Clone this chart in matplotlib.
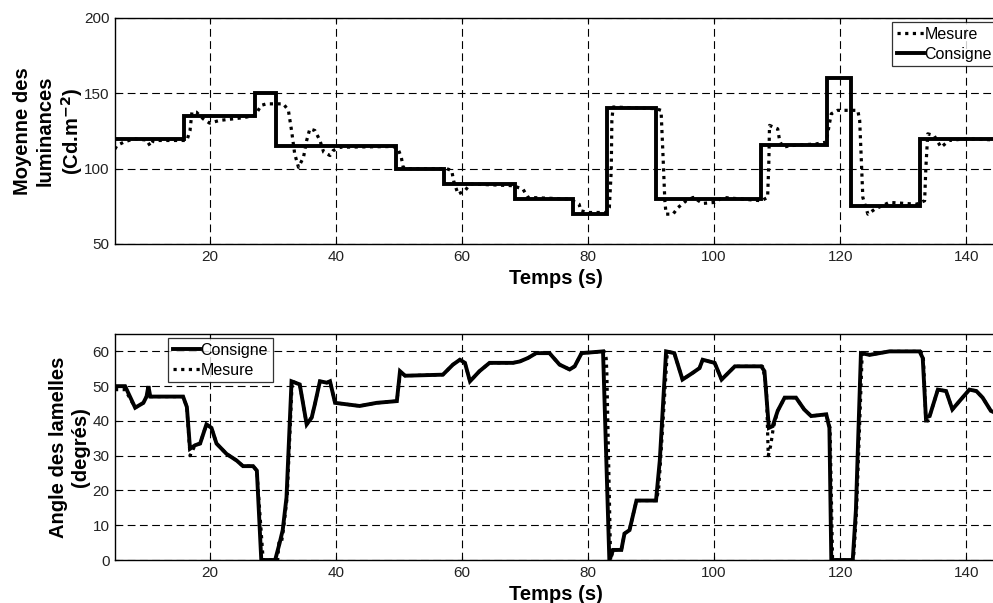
import numpy as np
import matplotlib.pyplot as plt
from matplotlib.lines import Line2D

plt.rcParams['font.family'] = ['Liberation Sans', 'DejaVu Sans']

# --- luminance (top panel) ---
lum_cons_t = [5, 15.9, 27.2, 30.6, 49.5, 57.2, 68.4, 77.6, 83.1, 90.8, 107.5, 117.9, 121.8, 132.6, 145]
lum_cons_v = [120, 135, 150, 115, 100, 90, 80, 70, 140, 80, 116, 160, 75, 120, 120]

lum_mes_t = [5, 5.3, 6.4, 8.0, 10.0, 10.6, 11.1, 16.4, 16.9, 17.2, 17.9, 19.0, 20.0, 21.6, 25.3,
             27.2, 28.2, 29.0, 31.7, 32.5, 33.0, 33.5, 34.1, 34.9, 35.4, 35.9, 36.7, 37.5, 38.1,
             39.1, 39.6, 40.7, 49.1, 49.9, 50.4, 50.7, 51.0, 57.6, 58.4, 58.7, 59.4, 60.5, 61.3,
             68.1, 69.7, 70.5, 77.1, 78.6, 78.9, 80.0, 82.9, 83.4, 83.7, 83.8, 84.0, 90.8, 91.6,
             91.9, 92.2, 92.4, 93.5, 94.3, 95.6, 96.7, 98.2, 100.1, 101.4, 107.5, 108.5, 108.7,
             108.8, 110.1, 110.4, 110.9, 112.2, 116.2, 117.8, 118.3, 118.6, 119.6, 122.8, 123.1,
             123.3, 123.6, 124.4, 125.5, 127.8, 132.1, 133.4, 133.6, 133.9, 134.9, 136.0, 137.3,
             139.9, 145]
lum_mes_v = [113, 115.3, 117.6, 119.8, 119, 115, 118.7, 118.7, 125.3, 137.5, 137.5, 133, 130.2, 132,
             133.8, 135.3, 142, 143, 143, 138.7, 125.3, 109.8, 100.9, 107.6, 118.7, 126.4, 125.3,
             118.7, 110.9, 108.7, 112, 114.2, 114.7, 113, 107.6, 101, 100, 100, 98.7, 92, 83.1,
             85.3, 89.8, 88.7, 86.4, 80.9, 79.8, 76.4, 72, 70.9, 70.9, 74.2, 98.7, 132, 140.9,
             139.8, 138.7, 109.8, 78.7, 69.8, 69.8, 74.2, 78.7, 80.9, 76.9, 77.6, 80.9, 78.7,
             80.9, 105.3, 128.7, 126.4, 118.7, 114.2, 115.3, 116.4, 117.6, 129.8, 136.4, 138.7,
             138.7, 132, 112, 80.9, 69.8, 73.1, 77.6, 76.4, 78.7, 100.9, 123.1, 122, 114.2, 118.7,
             119.8, 119]

# --- angle (bottom panel) ---
ang_cons_t = [5, 6.6, 8.2, 9.5, 10.0, 10.3, 10.6, 15.8, 16.4, 16.9, 17.7, 18.5, 19.5, 20.3, 21.1,
              22.7, 24.3, 25.3, 26.9, 27.5, 28.2, 30.4, 31.1, 31.6, 32.2, 33.0, 34.3, 35.4, 36.2,
              36.7, 37.5, 38.6, 39.1, 39.9, 43.8, 46.5, 49.7, 50.2, 51.0, 57.0, 58.6, 59.7, 60.5,
              61.3, 62.8, 64.4, 68.1, 69.2, 70.5, 71.8, 73.9, 75.5, 77.1, 77.9, 79.0, 82.4, 83.4,
              84.0, 85.3, 85.8, 86.6, 87.7, 90.8, 91.4, 92.4, 93.7, 95.0, 96.6, 97.7, 98.2, 100.1,
              101.2, 103.3, 107.5, 108.0, 108.7, 109.3, 110.1, 111.2, 113.0, 114.3, 115.4, 117.8,
              118.3, 118.6, 122.0, 122.5, 123.3, 124.7, 127.8, 132.6, 133.1, 133.6, 134.2, 135.5,
              136.8, 137.8, 139.4, 140.5, 141.6, 142.6, 143.9, 145]
ang_cons_v = [50, 50, 43.8, 45.2, 47, 50, 47, 47, 44, 32, 33, 33.5, 39, 38, 33.5,
              30.5, 28.6, 27, 27, 25.7, 0, 0, 4.8, 8.6, 18, 51.4, 50.5, 39, 41,
              44.8, 51.4, 51, 51.4, 45.2, 44.3, 45.2, 45.7, 54.3, 53, 53.3, 56.2, 57.6, 56.7,
              51.4, 54.3, 56.7, 56.7, 57.1, 58.1, 59.5, 59.5, 56.2, 54.8, 55.7, 59.5, 60, 0,
              2.9, 2.9, 7.6, 8.6, 17.1, 17.1, 28.6, 60, 59.5, 51.9, 53.8, 55.2, 57.6, 56.7,
              51.9, 55.7, 55.7, 54.3, 38, 38.5, 42.9, 46.7, 46.7, 43.3, 41.4, 41.9,
              38, 0, 0, 14.3, 59.5, 59, 60, 60, 58.1, 41, 41.4, 49,
              48.6, 43.3, 46.7, 49, 48.6, 46.7, 42.9, 42]

ang_mes_t = [5, 6.6, 8.2, 9.5, 10.0, 10.3, 10.6, 15.8, 16.4, 16.9, 17.7, 18.5, 19.5, 20.3, 21.1,
             22.7, 24.3, 25.3, 26.9, 27.5, 28.5, 30.8, 31.0, 31.4, 31.7, 32.3, 33.1, 34.3, 35.4,
             36.2, 36.7, 37.5, 38.6, 39.1, 39.9, 43.8, 46.5, 49.7, 50.3, 51.0, 57.0, 58.6, 59.7,
             60.5, 61.3, 62.8, 64.4, 68.1, 69.2, 70.5, 71.8, 73.9, 75.5, 77.1, 77.9, 79.0, 82.6,
             82.9, 83.0, 83.6, 84.0, 85.3, 85.8, 86.6, 87.7, 90.8, 91.2, 91.5, 92.6, 93.7, 95.0,
             96.6, 97.7, 98.2, 100.1, 101.2, 103.3, 107.7, 108.3, 108.6, 109.0, 109.4, 110.1,
             111.2, 113.0, 114.3, 115.4, 117.8, 118.4, 118.8, 122.1, 122.3, 122.6, 123.5, 124.7,
             127.8, 132.8, 133.2, 133.4, 133.6, 134.2, 135.5, 136.8, 137.8, 139.4, 140.5, 141.6,
             142.6, 143.9, 145]
ang_mes_v = [49, 49, 43.8, 45.2, 47, 49, 47, 47, 44, 30, 33, 33.5, 39, 38, 33.5,
             30.5, 28.6, 27, 27, 25.7, 0, 0, 5, 5, 8.6, 18, 51.4, 50.5, 39,
             41, 44.8, 51.4, 51, 51.4, 45.2, 44.3, 45.2, 45.7, 54.3, 53, 53.3, 56.2, 57.6,
             56.7, 51.4, 54.3, 56.7, 56.7, 57.1, 58.1, 59.5, 59.5, 56.2, 54.8, 55.7, 59.5, 60,
             58, 54, 0, 2.9, 2.9, 7.6, 8.6, 17.1, 17.1, 20, 28, 60, 59.5, 51.9,
             53.8, 55.2, 57.6, 56.7, 51.9, 55.7, 55.7, 50, 30, 33, 38, 42.9,
             46.7, 46.7, 43.3, 41.4, 41.9, 38, 0, 0, 5, 14, 59.5, 59,
             60, 60, 58, 50, 39, 41.4, 49, 48.6, 43.3, 46.7, 49, 48.6,
             46.7, 42.9, 42]

xticks = [20, 40, 60, 80, 100, 120, 140]

cons_kw = dict(color='black', lw=2.8, solid_joinstyle='miter')
mes_kw = dict(color='black', lw=2.3, linestyle=(0, (1, 1.4)), dash_capstyle='butt')

fig = plt.figure(figsize=(9.93, 6.03), dpi=100)
ax1 = fig.add_axes([0.1158, 0.5954, 0.889, 0.3748])
ax2 = fig.add_axes([0.1158, 0.0713, 0.889, 0.3748])

ax1.plot(lum_mes_t, lum_mes_v, **mes_kw)
ax1.step(lum_cons_t, lum_cons_v, where='post', **cons_kw)
ax1.set_ylim(50, 200)
ax1.set_yticks([50, 100, 150, 200])

ax2.plot(ang_mes_t, ang_mes_v, **mes_kw)
ax2.plot(ang_cons_t, ang_cons_v, **cons_kw)
ax2.set_ylim(0, 65)
ax2.set_yticks([0, 10, 20, 30, 40, 50, 60])

for ax in (ax1, ax2):
    ax.set_xlim(5, 145)
    ax.set_xticks(xticks)
    ax.grid(True, color='black', linestyle=(0, (7, 4)), lw=0.8)
    ax.tick_params(direction='in', top=True, right=True, length=3, labelsize=11,
                   labelcolor='#222222', pad=4)
    for s in ax.spines.values():
        s.set_linewidth(1.0)
    ax.set_xlabel('Temps (s)', fontsize=14.5, fontweight='bold', labelpad=4)

ax1.set_ylabel('Moyenne des\nluminances\n(Cd.m$^{\\mathbf{-2}}$)', fontsize=14.5,
               fontweight='bold', linespacing=1.25, labelpad=-1)
ax2.set_ylabel('Angle des lamelles\n(degrés)', fontsize=14.5, fontweight='bold',
               linespacing=1.25, labelpad=1.5)

h_mes = Line2D([], [], **mes_kw)
h_cons = Line2D([], [], **cons_kw)
leg_kw = dict(fontsize=11.5, frameon=True, fancybox=False, handlelength=1.7,
              handletextpad=0.05, borderpad=0.3, labelspacing=0.3, borderaxespad=0)
l1 = ax1.legend([h_mes, h_cons], ['Mesure', 'Consigne'], loc='upper left',
                bbox_to_anchor=(892 / 993, 1 - 22 / 603), bbox_transform=fig.transFigure, **leg_kw)
l2 = ax2.legend([h_cons, h_mes], ['Consigne', 'Mesure'], loc='upper left',
                bbox_to_anchor=(168 / 993, 1 - 338 / 603), bbox_transform=fig.transFigure, **leg_kw)
for lg in (l1, l2):
    lg.get_frame().set_edgecolor('black')
    lg.get_frame().set_linewidth(0.9)

fig.savefig('out.png', dpi=100)
